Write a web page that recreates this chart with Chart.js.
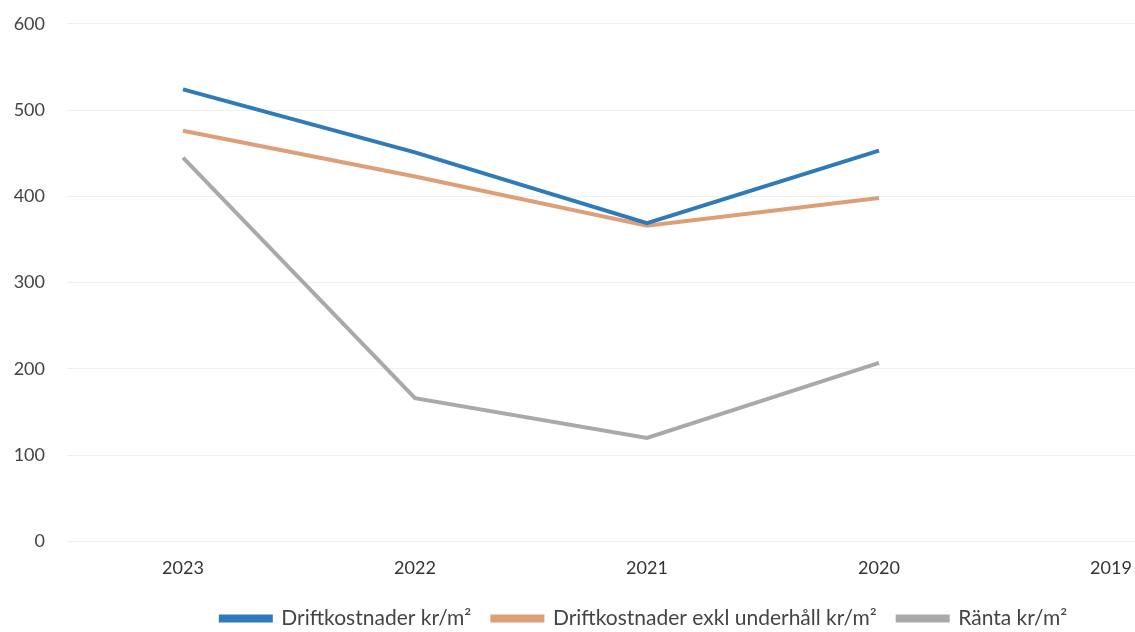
<!DOCTYPE html>
<html>
<head>
<meta charset="utf-8">
<script src="https://cdn.jsdelivr.net/npm/chart.js@4"></script>
<style>
  html, body { margin: 0; padding: 0; background: #fff; overflow: hidden; }
  #wrap { width: 1288px; height: 648px; margin-top: -9px; }
</style>
</head>
<body>
<div id="wrap"><canvas id="lineChart"></canvas></div>
<script>
const years = ['2023', '2022', '2021', '2020', '2019'];
const driftkostnader = [524, 451, 369, 453, null];
const driftExklUnderhall = [476, 423, 366, 398, null];
const ranta = [445, 166, 120, 207, null];

const ctx = document.getElementById('lineChart').getContext('2d');
const lineChart = new Chart(ctx, {
    type: 'line',
    data: {
        labels: years,
        datasets: [{
            label: 'Driftkostnader kr/m²',
            data: driftkostnader,
            borderColor: '#2f7ab9',
            backgroundColor: '#2f7ab9',
            borderWidth: 4
        }, {
            label: 'Driftkostnader exkl underhåll kr/m²',
            data: driftExklUnderhall,
            borderColor: '#dd9f78',
            backgroundColor: '#dd9f78',
            borderWidth: 4
        }, {
            label: 'Ränta kr/m²',
            data: ranta,
            borderColor: '#a9a9a9',
            backgroundColor: '#a9a9a9',
            borderWidth: 4
        }]
    },
    options: {
        responsive: true,
        maintainAspectRatio: false,
        animation: false,
        elements: {
            point: { radius: 0 },
            line: { tension: 0 }
        },
        layout: {
            padding: 0
        },
        plugins: {
            tooltip: { enabled: false },
            legend: {
                position: 'bottom',
                labels: {
                    boxWidth: 50,
                    boxHeight: 4,
                    padding: 21,
                    color: '#444',
                    font: { family: 'Lato', size: 21 }
                }
            }
        },
        scales: {
            x: {
                offset: true,
                grid: { display: false },
                border: { display: false },
                ticks: {
                    color: '#333',
                    padding: 8,
                    font: { family: 'Lato', size: 18 }
                }
            },
            y: {
                min: 0,
                max: 600,
                afterFit: (scale) => { scale.width = 67; },
                ticks: {
                    stepSize: 100,
                    color: '#444',
                    padding: 22,
                    font: { family: 'Lato', size: 18 }
                },
                grid: { color: '#f0f0f0', drawTicks: false },
                border: { display: false }
            },
            // empty right-hand axis, only there to keep the plot and legend where they belong
            yRight: {
                position: 'right',
                min: 0,
                max: 600,
                afterFit: (scale) => { scale.width = 61; },
                ticks: { display: false },
                grid: { display: false },
                border: { display: false }
            }
        }
    }
});
</script>
</body>
</html>
